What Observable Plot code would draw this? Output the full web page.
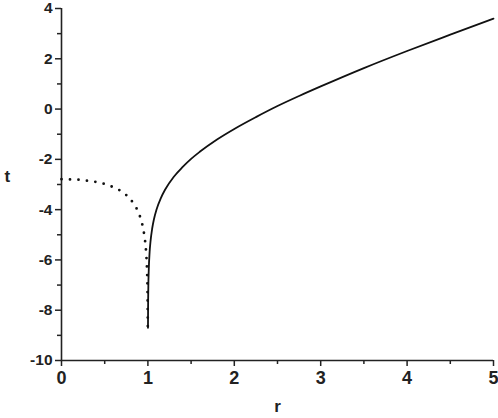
<!DOCTYPE html>
<html>
<head>
<meta charset="utf-8">
<script src="https://cdn.jsdelivr.net/npm/d3@7"></script>
<script src="https://cdn.jsdelivr.net/npm/@observablehq/plot@0.6"></script>
<style>
  html, body { margin: 0; padding: 0; background: #fff; }
</style>
</head>
<body>
<div id="chart"></div>
<script>
// Outside branch (solid curve)
const rOuter = [1.001, 1.002, 1.005, 1.01, 1.02, 1.03, 1.05, 1.07, 1.1, 1.15, 1.2, 1.3, 1.4, 1.5, 1.6, 1.8, 2.0, 2.25, 2.5, 2.75, 3.0, 3.5, 4.0, 4.5, 5.0];
const tOuter = [-8.70, -8.00, -7.08, -6.39, -5.68, -5.27, -4.74, -4.38, -3.99, -3.54, -3.20, -2.69, -2.31, -1.98, -1.70, -1.21, -0.79, -0.32, 0.12, 0.52, 0.90, 1.63, 2.31, 2.96, 3.60];
// Inside branch (dotted curve)
const rInner = [0, 0.1, 0.2, 0.3, 0.4, 0.5, 0.6, 0.7, 0.8, 0.85, 0.9, 0.93, 0.95, 0.97, 0.98, 0.99, 0.995, 0.998, 0.999];
const tInner = [-2.79, -2.80, -2.81, -2.85, -2.90, -2.98, -3.11, -3.29, -3.60, -3.84, -4.19, -4.52, -4.84, -5.33, -5.72, -6.41, -7.09, -8.01, -8.70];
// Ticks
const xMajor = [0, 1, 2, 3, 4, 5];
const xMinor = [0.5, 1.5, 2.5, 3.5, 4.5];
const yMajor = [-10, -8, -6, -4, -2, 0, 2, 4];
const yMinor = [-9, -7, -5, -3, -1, 1, 3];

const outer = rOuter.map((r, i) => ({r, t: tOuter[i]}));
const inner = rInner.map((r, i) => ({r, t: tInner[i]}));

const chart = Plot.plot({
  width: 498,
  height: 418,
  marginLeft: 61,
  marginRight: 5,
  marginTop: 8,
  marginBottom: 58,
  style: {fontFamily: "'Liberation Sans', Arial, sans-serif", fontSize: "16px", fontWeight: "bold", color: "#222", background: "#fff"},
  x: {domain: [0, 5], axis: null},
  y: {domain: [-10, 4], axis: null},
  marks: [
    Plot.axisX(xMajor, {tickSize: 6, tickPadding: 5, label: null, strokeWidth: 1.5, fontSize: 18, tickFormat: d => String(d)}),
    Plot.axisX(xMinor, {tickSize: 4, text: null, label: null, strokeWidth: 1.5}),
    Plot.axisY(yMajor, {tickSize: 6, tickPadding: 3, label: null, strokeWidth: 1.5, fontSize: 15.5, tickFormat: d => d < 0 ? "-" + Math.abs(d) : String(d)}),
    Plot.axisY(yMinor, {tickSize: 4, text: null, label: null, strokeWidth: 1.5}),
    Plot.ruleY([-10], {stroke: "#222", strokeWidth: 1.6}),
    Plot.ruleX([0], {stroke: "#222", strokeWidth: 1.6}),
    Plot.line(outer, {x: "r", y: "t", stroke: "#111", strokeWidth: 1.8, curve: "monotone-x"}),
    Plot.line(inner, {x: "r", y: "t", stroke: "#111", strokeWidth: 2.8, strokeLinecap: "round", strokeDasharray: "0,8.5", curve: "monotone-x"}),
    Plot.text(["r"], {frameAnchor: "bottom", dy: 51, fontSize: 17, text: d => d, fill: "#222"}),
    Plot.text(["t"], {frameAnchor: "left", dx: -57, dy: -8, fontSize: 17, text: d => d, fill: "#222"})
  ]
});
document.getElementById("chart").appendChild(chart);
</script>
</body>
</html>
